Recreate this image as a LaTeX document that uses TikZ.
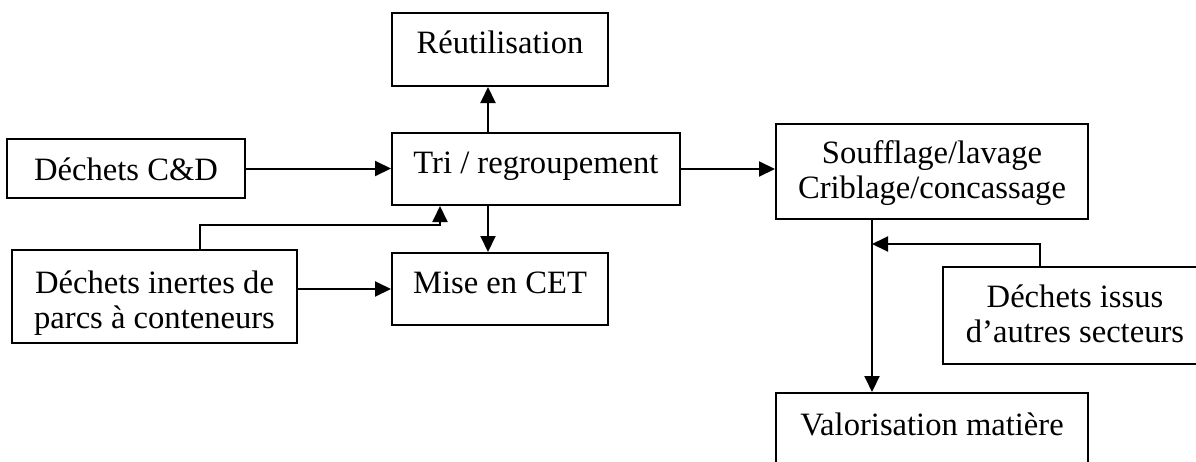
\documentclass[tikz,border=0pt]{standalone}
\usepackage{fontspec}
\setmainfont{Liberation Serif}
\usetikzlibrary{arrows.meta}
\newcommand{\twolines}[2]{\begin{tabular}[t]{@{}c@{}}#1\\#2\end{tabular}}
\begin{document}
\begin{tikzpicture}[x=1pt,y=-1pt,
  box/.style={draw,line width=2pt,inner sep=0pt,
    font=\fontsize{32.6}{35}\selectfont},
  arr/.style={line width=2pt,-{Triangle[length=16pt,width=15pt]}}]
\clip (0,0) rectangle (1196,461);

% process boxes (text height / depth place the first baseline)
\node[box,minimum width=216pt,text height=40pt,text depth=33pt] (reut) at (500,49.5) {Réutilisation};
\node[box,minimum width=288pt,text height=40pt,text depth=32pt] (tri) at (536,169) {Tri / regroupement};
\node[box,minimum width=238pt,text height=41pt,text depth=18pt] (cd) at (126,168.5) {Déchets C\&D};
\node[box,minimum width=216pt,text height=40pt,text depth=32pt] (mise) at (500,289) {Mise en CET};
\node[box,minimum width=312pt,text height=39pt,text depth=56pt] (souf) at (932,171.5) {\twolines{Soufflage/lavage}{Criblage/concassage}};
\node[box,minimum width=285pt,text height=43pt,text depth=50pt] (inertes) at (154.5,296.5) {\twolines{Déchets inertes de}{parcs à conteneurs}};
\node[box,minimum width=264pt,text height=40pt,text depth=57pt] (issus) at (1075,315.5) {\twolines{Déchets issus}{d’autres secteurs}};
\node[box,minimum width=312pt,text height=42pt,text depth=40pt] (valor) at (932,434) {Valorisation matière};

% routing helpers
\coordinate (tx) at (488,0);
\coordinate (ix) at (200,0);
\coordinate (kx) at (440,0);
\coordinate (jy) at (0,225);
\coordinate (sx) at (872,0);
\coordinate (dx) at (1040,0);
\coordinate (jy2) at (0,244);

% connectors
\draw[arr] (cd.east) -- (cd.east -| tri.west);
\draw[arr] (tri.north -| tx) -- (reut.south -| tx);
\draw[arr] (tri.south -| tx) -- (mise.north -| tx);
\draw[arr] (inertes.north -| ix) |- (kx |- jy) -- (tri.south -| kx);
\draw[arr] (inertes.east |- mise.west) -- (mise.west);
\draw[arr] (tri.east) -- (tri.east -| souf.west);
\draw[arr] (souf.south -| sx) -- (valor.north -| sx);
\draw[arr] (issus.north -| dx) |- (sx |- jy2);
\end{tikzpicture}
\end{document}
